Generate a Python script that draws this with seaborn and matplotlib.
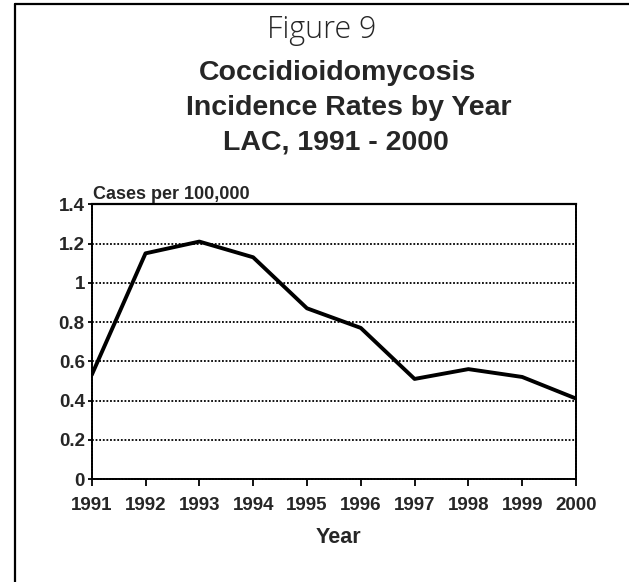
import matplotlib
matplotlib.use("Agg")
import matplotlib.pyplot as plt
from matplotlib.lines import Line2D
import seaborn as sns
import pandas as pd

# Coccidioidomycosis incidence, cases per 100,000, Los Angeles County
years = [1991, 1992, 1993, 1994, 1995, 1996, 1997, 1998, 1999, 2000]
rates = [0.53, 1.15, 1.21, 1.13, 0.87, 0.77, 0.51, 0.56, 0.52, 0.41]
y_ticks = [0, 0.2, 0.4, 0.6, 0.8, 1, 1.2, 1.4]
y_tick_labels = ["0", "0.2", "0.4", "0.6", "0.8", "1", "1.2", "1.4"]

df = pd.DataFrame({"Year": years, "Rate": rates})

sns.set_theme(style="white")
plt.rcParams["font.family"] = ["Liberation Sans", "DejaVu Sans"]

W, H = 629, 582
fig = plt.figure(figsize=(W / 100, H / 100), dpi=100)
ax = fig.add_axes([91.7 / W, 1 - 479 / H, (576 - 91.7) / W, (479 - 204.3) / H])

sns.lineplot(data=df, x="Year", y="Rate", color="black", linewidth=2.8,
             ax=ax, zorder=5)

ax.set_xlim(1991, 2000)
ax.set_ylim(0, 1.4)
ax.set_xticks(years)
ax.set_xticklabels([str(y) for y in years], fontsize=13.5, fontweight="bold")
ax.set_yticks(y_ticks)
ax.set_yticklabels(y_tick_labels, fontsize=13.5, fontweight="bold")
ax.tick_params(axis="x", direction="out", length=5, width=1.3, color="black",
               pad=8, bottom=True)
ax.tick_params(axis="y", direction="out", length=3, width=1.3, color="black",
               pad=2, left=True)

ax.grid(axis="y", color="black", linestyle=(0, (1, 1)), linewidth=1.3)
ax.grid(axis="x", visible=False)

for side in ["left", "right", "bottom"]:
    ax.spines[side].set_visible(True)
    ax.spines[side].set_color("black")
    ax.spines[side].set_linestyle((0, (1, 0.6)))
    ax.spines[side].set_linewidth(1.4)
ax.spines["top"].set_visible(True)
ax.spines["top"].set_color("black")
ax.spines["top"].set_linewidth(1.6)

ax.set_xlabel("")
ax.set_ylabel("")
fig.text(338 / W, 1 - 543 / H, "Year", fontsize=15.5, fontweight="bold",
         ha="center", va="baseline")
fig.text(93 / W, 1 - 199 / H, "Cases per 100,000", fontsize=13,
         fontweight="bold", ha="left", va="baseline")

fig.text(322 / W, 1 - 38 / H, "Figure 9", fontsize=22, ha="center",
         va="baseline", family=["Open Sans", "DejaVu Sans"],
         fontweight="light")
fig.text(337.5 / W, 1 - 80 / H, "Coccidioidomycosis", fontsize=20.5,
         fontweight="bold", ha="center", va="baseline")
fig.text(349 / W, 1 - 115 / H, "Incidence Rates by Year", fontsize=20.5,
         fontweight="bold", ha="center", va="baseline")
fig.text(336 / W, 1 - 149 / H, "LAC, 1991 - 2000", fontsize=20.5,
         fontweight="bold", ha="center", va="baseline")

# Frame lines along the left and top of the page
x0 = 15 / W
y0 = 1 - 4.3 / H
fig.add_artist(Line2D([x0, x0], [0, y0], transform=fig.transFigure,
                      color="black", linewidth=1.6))
fig.add_artist(Line2D([x0, 1], [y0, y0], transform=fig.transFigure,
                      color="black", linewidth=1.6))

fig.savefig("out.png", dpi=100, facecolor="white")
